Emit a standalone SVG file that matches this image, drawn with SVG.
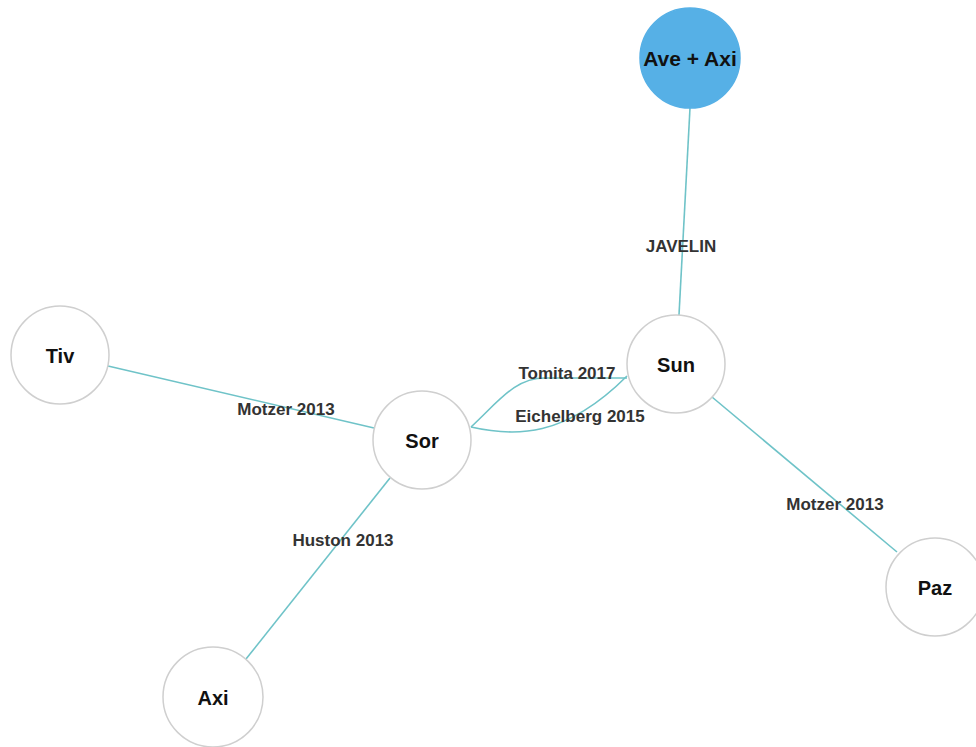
<svg xmlns="http://www.w3.org/2000/svg" width="976" height="747" viewBox="0 0 976 747">
<style>
.edge{fill:none;stroke:#6fc3c8;stroke-width:1.6}
.node{fill:#fff;stroke:#cfcfcf;stroke-width:1.5}
.hl{fill:#56b0e6;stroke:#56b0e6}
.nl{font-family:"Liberation Sans",Arial,sans-serif;font-weight:bold;font-size:20px;fill:#111;text-anchor:middle;dominant-baseline:central}
.el{font-family:"Liberation Sans",Arial,sans-serif;font-weight:bold;font-size:17px;fill:#333;text-anchor:middle;dominant-baseline:central}
</style>
<rect width="976" height="747" fill="#fff"/>
<g id="connectors">
<line class="edge" x1="690" y1="108" x2="679" y2="315"/>
<line class="edge" x1="108" y1="366" x2="374" y2="428"/>
<line class="edge" x1="390" y1="478" x2="246" y2="659"/>
<line class="edge" x1="712" y1="397" x2="897" y2="552"/>
<path class="edge" d="M471,427 C500,400 515,378 545,378 L627,378"/>
<path class="edge" d="M471,427 C515,437 565,438 627,376"/>
<text class="el" x="681" y="246">JAVELIN</text>
<text class="el" x="286" y="409">Motzer 2013</text>
<text class="el" x="343" y="540">Huston 2013</text>
<text class="el" x="835" y="504">Motzer 2013</text>
<text class="el" x="567" y="373">Tomita 2017</text>
<text class="el" x="580" y="416">Eichelberg 2015</text>
</g>
<g id="node-aveaxi"><circle class="node hl" cx="690" cy="58" r="50"/><text class="nl" x="690" y="58" style="font-size:21px">Ave + Axi</text></g>
<g id="node-sun"><circle class="node" cx="676" cy="364" r="49"/><text class="nl" x="676" y="365">Sun</text></g>
<g id="node-sor"><circle class="node" cx="422" cy="440" r="49"/><text class="nl" x="422" y="441">Sor</text></g>
<g id="node-tiv"><circle class="node" cx="60" cy="355" r="49"/><text class="nl" x="60" y="356">Tiv</text></g>
<g id="node-axi"><circle class="node" cx="213" cy="697" r="50"/><text class="nl" x="213" y="698">Axi</text></g>
<g id="node-paz"><circle class="node" cx="935" cy="587" r="49"/><text class="nl" x="935" y="588">Paz</text></g>
</svg>
